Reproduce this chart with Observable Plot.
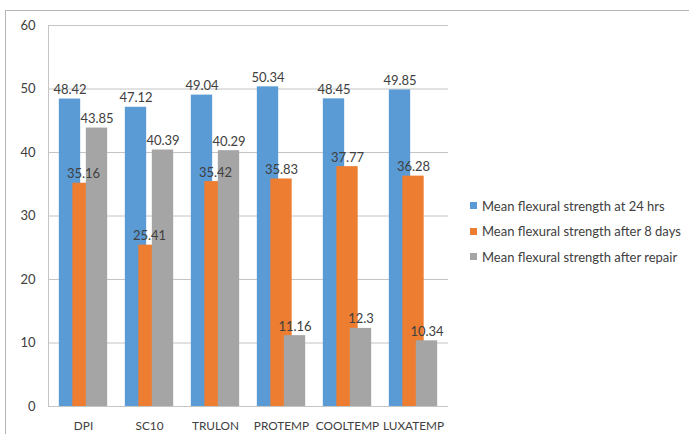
<!DOCTYPE html>
<html>
<head>
<meta charset="utf-8">
<script src="https://cdn.jsdelivr.net/npm/d3@7"></script>
<script src="https://cdn.jsdelivr.net/npm/@observablehq/plot@0.6"></script>
<style>
  html, body { margin: 0; padding: 0; background: #fff; }
  #wrap { position: relative; width: 689px; height: 434px; overflow: hidden; font-family: Lato, "Open Sans", sans-serif; }
  #border { position: absolute; left: 5px; top: 10px; width: 700px; height: 500px; border-top: 1.5px solid #b5b5b5; border-left: 1.5px solid #b5b5b5; box-sizing: border-box; }
  #chart { position: absolute; left: 0; top: 0; }
  #legend { position: absolute; left: 470px; top: 193px; font-size: 13px; color: #404040; }
  .row { height: 25.5px; display: flex; align-items: center; white-space: nowrap; }
  .sw { width: 7px; height: 7px; margin-right: 5px; }
</style>
</head>
<body>
<div id="wrap">
  <div id="border"></div>
  <div id="chart"></div>
  <div id="legend"></div>
</div>
<script>
const categories = ["DPI", "SC10", "TRULON", "PROTEMP", "COOLTEMP", "LUXATEMP"];
const seriesNames = [
  "Mean flexural strength at 24 hrs",
  "Mean flexural strength after 8 days",
  "Mean flexural strength after repair"
];
const at24hrs = [48.42, 47.12, 49.04, 50.34, 48.45, 49.85];
const after8days = [35.16, 25.41, 35.42, 35.83, 37.77, 36.28];
const afterRepair = [43.85, 40.39, 40.29, 11.16, 12.3, 10.34];
const yTicks = [0, 10, 20, 30, 40, 50, 60];
const colors = ["#5b9bd5", "#ed7d31", "#a5a5a5"];

const seriesValues = [at24hrs, after8days, afterRepair];
const rows = seriesNames.flatMap((s, si) =>
  categories.map((c, ci) => ({ category: c, series: s, value: seriesValues[si][ci] }))
);

const offsets = [-13.5, 0, 13.5];
const inset = (400 / 6 - 22) / 2;

const marks = [
  Plot.gridY(yTicks.filter(t => t > 0), { stroke: "#c4c4c4", strokeOpacity: 1 }),
  Plot.ruleY([0], { stroke: "#c4c4c4" }),
  Plot.frame({ anchor: "left", stroke: "#c4c4c4" }),
  Plot.axisY({ ticks: yTicks, tickSize: 0, tickPadding: 13, label: null, fontSize: 13 }),
  Plot.axisX({ tickSize: 0, tickPadding: 15, label: null, fontSize: 11.8 })
];
seriesNames.forEach((s, i) => {
  const data = rows.filter(d => d.series === s);
  marks.push(Plot.barY(data, {
    x: "category", y: "value", fill: "series",
    dx: offsets[i], insetLeft: inset, insetRight: inset
  }));
});
seriesNames.forEach((s, i) => {
  const data = rows.filter(d => d.series === s);
  marks.push(Plot.text(data, {
    x: "category", y: "value", text: d => String(d.value),
    dx: offsets[i], dy: -5, lineAnchor: "bottom",
    fill: "#404040", fontSize: 13
  }));
});

const chart = Plot.plot({
  width: 689,
  height: 434,
  marginLeft: 48,
  marginRight: 241,
  marginTop: 25,
  marginBottom: 28,
  style: { fontFamily: "Lato, 'Open Sans', sans-serif", fontSize: "13px", color: "#404040", background: "transparent" },
  x: { type: "band", domain: categories, paddingInner: 0, paddingOuter: 0 },
  y: { domain: [0, 60] },
  color: { domain: seriesNames, range: colors },
  marks
});
document.getElementById("chart").appendChild(chart);

const legend = document.getElementById("legend");
seriesNames.forEach((s, i) => {
  const row = document.createElement("div");
  row.className = "row";
  const sw = document.createElement("span");
  sw.className = "sw";
  sw.style.background = colors[i];
  const t = document.createElement("span");
  t.textContent = s;
  row.appendChild(sw);
  row.appendChild(t);
  legend.appendChild(row);
});
</script>
</body>
</html>
